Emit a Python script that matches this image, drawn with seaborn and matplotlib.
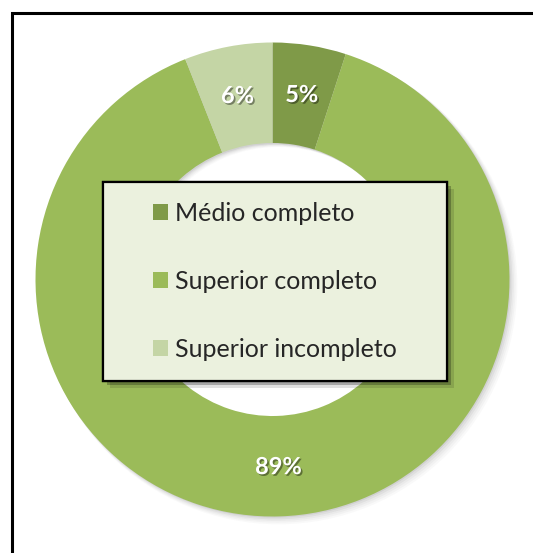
import matplotlib
matplotlib.use("Agg")
import matplotlib.pyplot as plt
import matplotlib.patheffects as pe
from matplotlib.patches import Rectangle
import seaborn as sns

# data
categories = ["Médio completo", "Superior completo", "Superior incompleto"]
shares = [5, 89, 6]
colors = ["#7F9A48", "#9BBB59", "#C4D5A5"]

sns.set_theme(style="white")
plt.rcParams["font.family"] = ["Lato", "DejaVu Sans"]

palette = sns.color_palette(colors)

fig = plt.figure(figsize=(5.33, 5.53), dpi=100)
fig.patch.set_facecolor("white")
ax = fig.add_axes([35.5 / 533, 36.5 / 553, 474 / 533, 474 / 553])
ax.set_xlim(-1, 1)
ax.set_ylim(-1, 1)
ax.set_aspect("equal")
ax.axis("off")

ring = 0.424

# soft drop shadow under the ring
for k, a in enumerate([0.09, 0.07, 0.05, 0.04, 0.03]):
    d = 0.005 * (k + 1)
    ax.pie([1], colors=["#555555"], radius=1 + 0.002 * k, center=(d, -d),
           startangle=90, wedgeprops=dict(width=ring, linewidth=0, alpha=a))

wedges, _, autotexts = ax.pie(
    shares, colors=palette, startangle=90, counterclock=False,
    radius=1, autopct="%.0f%%", pctdistance=0.79,
    wedgeprops=dict(width=ring, linewidth=0),
    textprops=dict(color="white", fontsize=17, fontweight="bold"),
)
for t in autotexts:
    t.set_path_effects([pe.withSimplePatchShadow(offset=(1.2, -1.2),
                                                 shadow_rgbFace="black", alpha=0.4)])
ax.set_xlim(-1, 1)
ax.set_ylim(-1, 1)

# legend box with shadow
bx0, by0 = 102.7 / 533, 1 - 380.7 / 553
bw, bh = 344 / 533, 199 / 553
box = Rectangle((bx0, by0), bw, bh, transform=fig.transFigure,
                facecolor="#EBF1DE", edgecolor="black", linewidth=1.6, zorder=2)
box.set_path_effects([
    pe.withSimplePatchShadow(offset=(5, -5), shadow_rgbFace="black", alpha=0.12),
    pe.withSimplePatchShadow(offset=(3, -3), shadow_rgbFace="black", alpha=0.25),
])
fig.add_artist(box)

leg = fig.legend(wedges, categories, loc="center",
                 bbox_to_anchor=(bx0 + bw / 2, by0 + bh / 2),
                 bbox_transform=fig.transFigure, frameon=False,
                 fontsize=18, handlelength=0.6, handleheight=0.6,
                 handletextpad=0.3, labelspacing=1.8)
leg.set_zorder(5)

# chart frame (top and left edges visible)
frame = Rectangle((12 / 533, -0.05), 1.2, 1 - 13 / 553 + 0.05, transform=fig.transFigure,
                  fill=False, edgecolor="black", linewidth=2.2, zorder=10)
fig.add_artist(frame)

fig.savefig("out.png", dpi=100)
